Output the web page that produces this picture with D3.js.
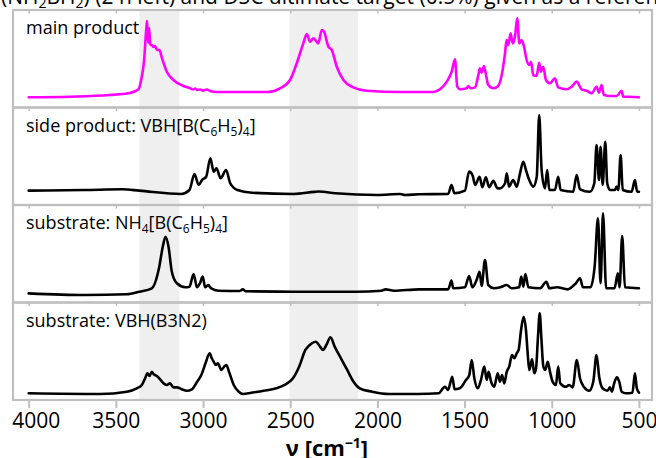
<!DOCTYPE html>
<html>
<head>
<meta charset="utf-8">
<script src="https://cdn.jsdelivr.net/npm/d3@7"></script>
<style>
  body { margin: 0; background: #fff; }
  svg { display: block; font-family: "Open Sans", sans-serif; }
</style>
</head>
<body>
<div id="chart"></div>
<script>
// Spectra: wavenumber (cm-1) + relative intensity (0..1 of a panel)
const mainWn = [4000,3760,3535,3420,3370,3355,3338,3326,3321,3315,3309,3303,3294,3285,3275,3265,3250,3236,3208,3170,3113,3074,3057,3045,3034,3017,3000,2978,2959,2921,2634,2558,2501,2462,2425,2405,2386,2367,2339,2319,2306,2281,2262,2233,2195,2138,2061,1870,1679,1641,1602,1574,1555,1542,1526,1488,1479,1465,1440,1421,1412,1402,1389,1377,1364,1335,1307,1287,1268,1259,1249,1236,1224,1211,1198,1186,1173,1159,1144,1129,1119,1106,1087,1072,1062,1049,1033,1010,982,963,915,886,857,829,800,771,743,729,714,701,666,628,599,590,552,500];
const mainInt = [0.105,0.111,0.128,0.149,0.187,0.282,0.487,0.795,0.890,0.662,0.815,0.641,0.641,0.621,0.631,0.590,0.590,0.508,0.367,0.282,0.221,0.197,0.185,0.195,0.179,0.185,0.174,0.185,0.169,0.159,0.159,0.197,0.282,0.456,0.658,0.754,0.675,0.710,0.658,0.795,0.777,0.624,0.590,0.418,0.282,0.207,0.172,0.159,0.159,0.187,0.265,0.367,0.494,0.213,0.187,0.197,0.221,0.197,0.207,0.333,0.402,0.357,0.426,0.333,0.231,0.197,0.221,0.333,0.556,0.692,0.641,0.761,0.658,0.726,0.915,0.658,0.692,0.624,0.487,0.436,0.470,0.333,0.323,0.459,0.367,0.418,0.282,0.248,0.299,0.207,0.187,0.213,0.265,0.187,0.172,0.146,0.213,0.152,0.231,0.128,0.118,0.118,0.172,0.111,0.111,0.105];

const sideWn = [4000,3677,3461,3365,3126,3078,3049,3025,3006,2982,2958,2939,2923,2899,2868,2844,2803,2719,2480,2360,2336,2241,2001,1870,1842,1761,1594,1575,1558,1498,1474,1455,1439,1414,1398,1378,1359,1335,1311,1297,1268,1258,1245,1221,1201,1182,1163,1148,1129,1106,1086,1072,1058,1039,1026,1014,982,963,949,877,857,838,781,756,743,729,720,708,693,682,666,638,628,618,605,593,542,523,510,500];
const sideInt = [0.147,0.154,0.161,0.147,0.113,0.154,0.318,0.205,0.256,0.290,0.479,0.342,0.376,0.274,0.359,0.223,0.154,0.126,0.113,0.135,0.138,0.120,0.103,0.113,0.103,0.110,0.113,0.205,0.120,0.147,0.342,0.308,0.205,0.290,0.182,0.284,0.182,0.249,0.171,0.171,0.223,0.325,0.188,0.256,0.188,0.325,0.444,0.359,0.256,0.188,0.290,0.923,0.359,0.171,0.359,0.154,0.154,0.290,0.154,0.136,0.308,0.161,0.136,0.223,0.615,0.256,0.598,0.205,0.649,0.223,0.154,0.154,0.188,0.154,0.513,0.154,0.136,0.256,0.136,0.136];

const nh4Wn = [4000,3677,3438,3365,3294,3251,3231,3215,3198,3179,3150,3102,3078,3054,3035,3018,3002,2988,2970,2954,2911,2791,2772,2755,2480,2121,1977,1953,1905,1761,1594,1575,1565,1498,1474,1455,1431,1414,1402,1383,1364,1331,1295,1258,1230,1187,1175,1163,1151,1134,1067,1031,1014,970,909,862,838,821,778,754,735,720,706,688,640,621,611,596,580,500];
const nh4Int = [0.094,0.077,0.084,0.111,0.146,0.367,0.572,0.675,0.572,0.316,0.197,0.156,0.162,0.292,0.156,0.197,0.265,0.156,0.179,0.146,0.121,0.118,0.135,0.115,0.111,0.111,0.121,0.135,0.121,0.135,0.135,0.224,0.146,0.156,0.272,0.156,0.231,0.316,0.169,0.436,0.179,0.146,0.156,0.179,0.146,0.156,0.265,0.162,0.292,0.156,0.146,0.213,0.146,0.156,0.135,0.197,0.248,0.156,0.156,0.367,0.864,0.197,0.915,0.146,0.146,0.299,0.156,0.682,0.156,0.146];

const vbhWn = [4000,3590,3437,3380,3351,3332,3319,3307,3294,3285,3265,3246,3227,3208,3189,3170,3150,3122,3093,3064,3034,3010,2986,2962,2950,2939,2927,2915,2895,2879,2867,2848,2824,2795,2771,2723,2652,2580,2532,2484,2449,2413,2376,2353,2329,2312,2293,2269,2245,2209,2173,2137,2101,2030,1934,1767,1648,1624,1612,1595,1580,1571,1557,1528,1492,1473,1459,1444,1425,1406,1387,1373,1362,1348,1330,1310,1297,1285,1272,1258,1244,1228,1215,1201,1190,1176,1161,1148,1138,1129,1113,1100,1090,1079,1069,1060,1048,1037,1023,1010,995,976,963,951,918,900,880,856,838,814,785,762,743,728,708,680,666,655,642,626,613,599,575,537,523,512,500];
const vbhInt = [0.069,0.062,0.085,0.120,0.154,0.223,0.274,0.246,0.290,0.267,0.246,0.212,0.171,0.154,0.171,0.130,0.130,0.110,0.095,0.110,0.188,0.256,0.376,0.479,0.428,0.393,0.359,0.376,0.308,0.342,0.359,0.274,0.154,0.085,0.062,0.075,0.095,0.120,0.154,0.223,0.342,0.513,0.582,0.598,0.547,0.513,0.564,0.643,0.547,0.428,0.308,0.188,0.120,0.085,0.062,0.062,0.069,0.120,0.136,0.103,0.188,0.239,0.110,0.120,0.205,0.256,0.410,0.223,0.120,0.205,0.342,0.205,0.290,0.188,0.136,0.274,0.188,0.256,0.171,0.290,0.342,0.462,0.428,0.479,0.513,0.718,0.854,0.718,0.479,0.308,0.417,0.274,0.325,0.649,0.889,0.649,0.342,0.308,0.393,0.290,0.188,0.154,0.342,0.171,0.136,0.154,0.130,0.410,0.223,0.130,0.095,0.188,0.462,0.239,0.120,0.095,0.130,0.085,0.171,0.233,0.188,0.085,0.069,0.075,0.274,0.120,0.075];

// panel labels: [text, isSubscript]
const mainLabel = [["main product", false]];
const sideLabel = [["side product: VBH[B(C", false], ["6", true], ["H", false], ["5", true], [")", false], ["4", true], ["]", false]];
const nh4Label = [["substrate: NH", false], ["4", true], ["[B(C", false], ["6", true], ["H", false], ["5", true], [")", false], ["4", true], ["]", false]];
const vbhLabel = [["substrate: VBH(B3N2)", false]];
const captionLabel = [["(NH", false], ["2", true], ["BH", false], ["2", true], [") (2 h left) and DSC ultimate target (0.5%) given as a reference.", false]];

const xTicks = [4000, 3500, 3000, 2500, 2000, 1500, 1000, 500];
const bands = [[3365, 3135], [2505, 2110]];

const panels = [
  {wn: mainWn, val: mainInt, label: mainLabel, color: "#ff00ff"},
  {wn: sideWn, val: sideInt, label: sideLabel, color: "#000"},
  {wn: nh4Wn, val: nh4Int, label: nh4Label, color: "#000"},
  {wn: vbhWn, val: vbhInt, label: vbhLabel, color: "#000"}
];

const svgWidth = 656, svgHeight = 458;
const frame = {left: 13, right: 652, top: 10, bottom: 400};
const panelH = (frame.bottom - frame.top) / panels.length;
const gridColor = "#bfbfbf";

// write text made of normal + subscript pieces
const richText = function(sel, parts, size, subSize, shift) {
  let down = false;
  parts.forEach(seg => {
    const ts = sel.append("tspan").text(seg[0]);
    if (seg[1]) {
      ts.attr("font-size", subSize);
      if (!down) { ts.attr("dy", shift); down = true; }
    } else if (down) {
      ts.attr("dy", -shift);
      down = false;
    }
  });
};

const svg = d3.select("#chart").append("svg")
  .attr("width", svgWidth)
  .attr("height", svgHeight);

// cut-off caption line at the very top
const cap = svg.append("text")
  .attr("x", 1)
  .attr("y", 4)
  .attr("font-size", 21)
  .attr("fill", "#000");
richText(cap, captionLabel, 21, 14, 4);

const x = d3.scaleLinear()
  .domain([4090, 425])
  .range([frame.left, frame.right]);

// shaded regions
svg.selectAll("rect.band")
  .data(bands)
  .enter()
  .append("rect")
  .attr("class", "band")
  .attr("x", d => x(d[0]))
  .attr("width", d => x(d[1]) - x(d[0]))
  .attr("y", frame.top)
  .attr("height", frame.bottom - frame.top)
  .attr("fill", "#efefef");

panels.forEach((p, i) => {
  const top = frame.top + i * panelH;
  const y = d3.scaleLinear().domain([0, 1]).range([top + panelH, top]);

  // frame
  svg.append("rect")
    .attr("x", frame.left)
    .attr("y", top)
    .attr("width", frame.right - frame.left)
    .attr("height", panelH)
    .attr("fill", "none")
    .attr("stroke", gridColor)
    .attr("stroke-width", 2.2);

  // small ticks hanging from the top edge
  const topAxis = svg.append("g")
    .attr("transform", `translate(0, ${top})`)
    .call(d3.axisBottom(x).tickValues(xTicks).tickSize(3.5).tickFormat(""));
  topAxis.select(".domain").remove();
  topAxis.selectAll("line").attr("stroke", gridColor).attr("stroke-width", 1.5);

  const pts = p.wn.map((w, k) => [w, p.val[k]]);
  const line = d3.line()
    .x(d => x(d[0]))
    .y(d => y(d[1]))
    .curve(d3.curveMonotoneX);

  svg.append("path")
    .datum(pts)
    .attr("d", line)
    .attr("fill", "none")
    .attr("stroke", p.color)
    .attr("stroke-width", 2.6)
    .attr("stroke-linejoin", "round")
    .attr("stroke-linecap", "round");

  // label
  const t = svg.append("text")
    .attr("x", 26)
    .attr("y", top + 24)
    .attr("font-size", 18)
    .attr("fill", "#000");
  richText(t, p.label, 18, 12, 4);
});

// bottom axis
const xAxis = svg.append("g")
  .attr("transform", `translate(0, ${frame.bottom})`)
  .call(d3.axisBottom(x).tickValues(xTicks).tickSize(8).tickPadding(5).tickFormat(d3.format("d")));
xAxis.select(".domain").remove();
xAxis.selectAll("line").attr("stroke", gridColor).attr("stroke-width", 2);
xAxis.selectAll("text")
  .attr("font-size", 21)
  .attr("font-family", "Open Sans, sans-serif")
  .attr("fill", "#000");
// first label sits a little to the right of its tick
xAxis.selectAll("text").filter(d => d === 4000).attr("dx", 7);

// axis title
const title = svg.append("text")
  .attr("x", 327)
  .attr("y", 456)
  .attr("text-anchor", "middle")
  .attr("font-size", 22)
  .attr("font-weight", "bold");
title.append("tspan").text("ν [cm");
title.append("tspan").attr("dy", -8).attr("font-size", 14).text("−1");
title.append("tspan").attr("dy", 8).text("]");
</script>
</body>
</html>
